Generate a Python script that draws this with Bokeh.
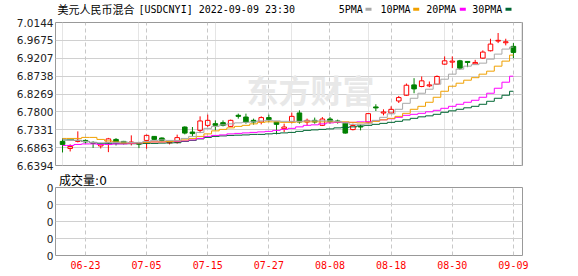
from bokeh.plotting import figure
from bokeh.layouts import column
from bokeh.models import (Range1d, FixedTicker, Grid, Label, Title,
                          ColumnDataSource, NumeralTickFormatter)
from bokeh.core.properties import value
from bokeh.embed import file_html
from bokeh.resources import INLINE

# ---------------- data ----------------
dates = ["06-20", "06-21", "06-22", "06-23", "06-24", "06-27", "06-28", "06-29", "06-30",
         "07-01", "07-04", "07-05", "07-06", "07-07", "07-08", "07-11", "07-12", "07-13",
         "07-14", "07-15", "07-18", "07-19", "07-20", "07-21", "07-22", "07-25", "07-26",
         "07-27", "07-28", "07-29", "08-01", "08-02", "08-03", "08-04", "08-05", "08-08",
         "08-09", "08-10", "08-11", "08-12", "08-15", "08-16", "08-17", "08-18", "08-19",
         "08-22", "08-23", "08-24", "08-25", "08-26", "08-29", "08-30", "08-31", "09-01",
         "09-02", "09-05", "09-06", "09-07", "09-08", "09-09"]

opens = [6.7026, 6.6841, 6.7026, 6.7052, 6.6999, 6.6907, 6.6999, 6.7078, 6.7026, 6.6983,
         6.6973, 6.7052, 6.7157, 6.7115, 6.6988, 6.6999, 6.7403, 6.7272, 6.7315, 6.7447,
         6.7491, 6.7518, 6.7420, 6.7710, 6.7665, 6.7578, 6.7534, 6.7650, 6.7534, 6.7360,
         6.7540, 6.7772, 6.7534, 6.7578, 6.7447, 6.7613, 6.7562, 6.7505, 6.7336, 6.7420,
         6.7534, 6.7930, 6.7770, 6.7770, 6.8086, 6.8236, 6.8508, 6.8466, 6.8482, 6.8526,
         6.9052, 6.9105, 6.9139, 6.9123, 6.9060, 6.9210, 6.9403, 6.9657, 6.9613, 6.9518]
highs = [6.7105, 6.6947, 6.7289, 6.7078, 6.7026, 6.6973, 6.7118, 6.7112, 6.7039, 6.7184,
         6.7013, 6.7203, 6.7165, 6.7131, 6.7039, 6.7203, 6.7420, 6.7403, 6.7683, 6.7728,
         6.7578, 6.7578, 6.7597, 6.7754, 6.7754, 6.7623, 6.7683, 6.7728, 6.7534, 6.7491,
         6.7781, 6.7841, 6.7623, 6.7650, 6.7665, 6.7665, 6.7597, 6.7534, 6.7491, 6.7473,
         6.7770, 6.7999, 6.7867, 6.7946, 6.8218, 6.8544, 6.8684, 6.8729, 6.8597, 6.8756,
         6.9255, 6.9255, 6.9165, 6.9123, 6.9165, 6.9413, 6.9718, 6.9868, 6.9718, 6.9604]
lows = [6.6736, 6.6762, 6.6999, 6.6973, 6.6855, 6.6841, 6.6744, 6.6920, 6.6947, 6.6920,
        6.6850, 6.6834, 6.7062, 6.7026, 6.6947, 6.6967, 6.7210, 6.7157, 6.7244, 6.7403,
        6.7315, 6.7420, 6.7403, 6.7623, 6.7491, 6.7465, 6.7473, 6.7534, 6.7210, 6.7272,
        6.7499, 6.7491, 6.7447, 6.7491, 6.7429, 6.7491, 6.7491, 6.7230, 6.7315, 6.7315,
        6.7491, 6.7823, 6.7710, 6.7754, 6.8033, 6.8218, 6.8289, 6.8447, 6.8447, 6.8508,
        6.9034, 6.8947, 6.8903, 6.8973, 6.9052, 6.9192, 6.9387, 6.9604, 6.9544, 6.9210]
closes = [6.6947, 6.6894, 6.7052, 6.7013, 6.6973, 6.6947, 6.7092, 6.6999, 6.6983, 6.7010,
          6.6954, 6.7184, 6.7078, 6.7052, 6.7013, 6.7125, 6.7244, 6.7230, 6.7562, 6.7578,
          6.7447, 6.7447, 6.7578, 6.7683, 6.7534, 6.7534, 6.7650, 6.7597, 6.7473, 6.7403,
          6.7683, 6.7534, 6.7578, 6.7534, 6.7613, 6.7545, 6.7534, 6.7244, 6.7441, 6.7403,
          6.7754, 6.7904, 6.7797, 6.7867, 6.8175, 6.8499, 6.8403, 6.8614, 6.8508, 6.8729,
          6.9139, 6.9131, 6.8947, 6.9097, 6.9097, 6.9368, 6.9578, 6.9676, 6.9639, 6.9360]

ma5 = [6.7078, 6.7052, 6.7052, 6.7025, 6.6999, 6.6986, 6.6999, 6.6999, 6.7012, 6.6999,
       6.6999, 6.7025, 6.7052, 6.7065, 6.7052, 6.7052, 6.7104, 6.7157, 6.7262, 6.7368,
       6.7420, 6.7460, 6.7486, 6.7512, 6.7526, 6.7539, 6.7565, 6.7578, 6.7565, 6.7552,
       6.7552, 6.7552, 6.7565, 6.7565, 6.7565, 6.7565, 6.7552, 6.7512, 6.7473, 6.7473,
       6.7486, 6.7578, 6.7657, 6.7749, 6.7868, 6.8025, 6.8157, 6.8289, 6.8394, 6.8526,
       6.8657, 6.8789, 6.8920, 6.8999, 6.9039, 6.9078, 6.9183, 6.9315, 6.9447, 6.9499]
ma10 = [6.7104, 6.7104, 6.7104, 6.7131, 6.7131, 6.7078, 6.7039, 6.7012, 6.6986, 6.6986,
        6.6986, 6.6999, 6.7012, 6.7012, 6.7025, 6.7039, 6.7065, 6.7104, 6.7157, 6.7223,
        6.7302, 6.7341, 6.7381, 6.7420, 6.7447, 6.7486, 6.7526, 6.7539, 6.7539, 6.7526,
        6.7526, 6.7539, 6.7539, 6.7539, 6.7539, 6.7539, 6.7539, 6.7539, 6.7526, 6.7512,
        6.7512, 6.7552, 6.7591, 6.7631, 6.7683, 6.7762, 6.7868, 6.7946, 6.8052, 6.8183,
        6.8341, 6.8473, 6.8552, 6.8631, 6.8697, 6.8789, 6.8868, 6.8999, 6.9131, 6.9289]
ma20 = [6.6920, 6.6920, 6.6946, 6.6960, 6.6960, 6.6946, 6.6946, 6.6960, 6.6960, 6.6973,
        6.6986, 6.6999, 6.7012, 6.7012, 6.7025, 6.7025, 6.7039, 6.7065, 6.7104, 6.7157,
        6.7183, 6.7196, 6.7223, 6.7236, 6.7249, 6.7262, 6.7275, 6.7289, 6.7315, 6.7341,
        6.7368, 6.7407, 6.7447, 6.7460, 6.7486, 6.7512, 6.7526, 6.7526, 6.7526, 6.7539,
        6.7539, 6.7565, 6.7591, 6.7618, 6.7657, 6.7710, 6.7736, 6.7762, 6.7802, 6.7841,
        6.7894, 6.7946, 6.7999, 6.8052, 6.8104, 6.8183, 6.8289, 6.8420, 6.8578, 6.8736]
ma30 = [6.7065, 6.7065, 6.7052, 6.7025, 6.6999, 6.6973, 6.6965, 6.6965, 6.6965, 6.6965,
        6.6965, 6.6973, 6.6973, 6.6981, 6.6986, 6.6991, 6.7025, 6.7052, 6.7091, 6.7131,
        6.7157, 6.7170, 6.7183, 6.7189, 6.7196, 6.7210, 6.7210, 6.7223, 6.7236, 6.7249,
        6.7262, 6.7289, 6.7315, 6.7328, 6.7341, 6.7354, 6.7381, 6.7394, 6.7407, 6.7433,
        6.7447, 6.7473, 6.7499, 6.7526, 6.7552, 6.7591, 6.7631, 6.7670, 6.7696, 6.7736,
        6.7789, 6.7828, 6.7868, 6.7907, 6.7946, 6.7999, 6.8078, 6.8157, 6.8236, 6.8341]

volumes = [0] * 60

price_ticks = [6.6394, 6.6863, 6.7331, 6.7800, 6.8269, 6.8738, 6.9207, 6.9675, 7.0144]
vol_ticks = [0, 1, 2, 3, 4]
vol_tick_labels = ["0", "0", "0", "0", "0"]
date_tick_labels = ["06-23", "07-05", "07-15", "07-27", "08-08", "08-18", "08-30", "09-09"]

ma_names = ["5PMA", "10PMA", "20PMA", "30PMA"]
ma_colors = ["#a8a8a8", "#f0a000", "#ff00ff", "#006633"]

title_cn = "美元人民币混合"
title_en = "[USDCNYI] 2022-09-09 23:30"
vol_title = "成交量:0"
watermark = "东方财富"

# ---------------- derived ----------------
idx = list(range(len(dates)))
date_ticks = [dates.index(d) for d in date_tick_labels]
RED = "#ff0000"
GREEN = "#008000"
BW = 0.6
W = 578
BL, BR = 55, 56          # left / right borders shared by all strips


def part(cond):
    sel = [i for i in idx if cond(i)]
    return dict(
        x=sel,
        top=[max(opens[i], closes[i]) for i in sel],
        bottom=[min(opens[i], closes[i]) for i in sel],
        high=[highs[i] for i in sel],
        low=[lows[i] for i in sel],
        left=[i - BW / 2 for i in sel],
        right=[i + BW / 2 for i in sel],
    )


up = ColumnDataSource(part(lambda i: closes[i] >= opens[i]))
dn = ColumnDataSource(part(lambda i: closes[i] < opens[i]))

xr = Range1d(-0.92, 60.19)

AX_FONT = "DejaVu Sans"
AX_SIZE = "10.5px"
AX_COLOR = "#222222"
MONO = "DejaVu Sans Mono"
CJK = "Noto Sans CJK SC"


def style_axis(ax, font, size, color, standoff):
    ax.axis_line_color = None
    ax.major_tick_line_color = None
    ax.minor_tick_line_color = None
    ax.major_tick_out = 0
    ax.major_tick_in = 0
    ax.minor_tick_out = 0
    ax.minor_tick_in = 0
    ax.major_label_standoff = standoff
    ax.major_label_text_font = font
    ax.major_label_text_font_size = size
    ax.major_label_text_color = color


# ---------------- header strip (title + legend), x in canvas pixels ----------------
HH = 16
h = figure(width=W, height=HH, x_range=Range1d(BL, W - BR), y_range=Range1d(HH, 0),
           output_backend="svg", toolbar_location=None, title=None,
           x_axis_location=None, y_axis_location=None,
           min_border_left=BL, min_border_right=BR,
           min_border_top=0, min_border_bottom=0)
h.outline_line_color = None
h.xgrid.visible = False
h.ygrid.visible = False
h.text(x=[57], y=[8.6], text=[title_cn], text_font=value(CJK), text_font_size="11px",
       text_color="#000000", text_baseline="middle", text_align="left")
h.text(x=[138], y=[9], text=[title_en], text_font=value(MONO), text_font_size="10px",
       text_color="#000000", text_baseline="middle", text_align="left")
leg_text_x = [338.3, 380.0, 425.7, 471.7]
leg_box_x = [365.0, 412.7, 459.3, 505.0]
h.text(x=leg_text_x, y=[9] * 4, text=ma_names, text_font=value(MONO),
       text_font_size="10px", text_color="#000000", text_baseline="middle",
       text_align="left")
h.quad(left=leg_box_x, right=[b + 6 for b in leg_box_x], top=[7.3] * 4,
       bottom=[10.3] * 4, fill_color=ma_colors, line_color=None)

# ---------------- price chart ----------------
p = figure(width=W, height=155, x_range=xr,
           y_range=Range1d(price_ticks[0], price_ticks[-1]),
           output_backend="svg", toolbar_location=None, title=None,
           x_axis_location=None,
           min_border_left=BL, min_border_right=BR,
           min_border_top=6, min_border_bottom=6)
p.outline_line_color = "#999999"
p.outline_line_width = 1
p.border_fill_color = "white"

p.yaxis.ticker = FixedTicker(ticks=price_ticks)
p.yaxis.formatter = NumeralTickFormatter(format="0.0000")
style_axis(p.yaxis[0], AX_FONT, AX_SIZE, AX_COLOR, 2)
p.ygrid.grid_line_color = "#d0d0d0"
p.ygrid.grid_line_width = 1

vg = Grid(dimension=0, ticker=FixedTicker(ticks=date_ticks),
          grid_line_color="#c8c8c8", grid_line_dash="4 3", grid_line_width=1)
p.add_layout(vg)

wm = Label(x=255, y=77, x_units="screen", y_units="screen", text=watermark,
           text_font=CJK, text_font_size="32px", text_font_style="bold",
           text_color="#e8e8e8", text_align="center", text_baseline="middle",
           level="underlay")
p.add_layout(wm)

# candles
p.segment(x0="x", x1="x", y0="high", y1="top", source=up, line_color=RED, line_width=1)
p.segment(x0="x", x1="x", y0="bottom", y1="low", source=up, line_color=RED, line_width=1)
p.quad(left="left", right="right", top="top", bottom="bottom", source=up,
       fill_alpha=0, line_color=RED, line_width=1)
p.segment(x0="x", x1="x", y0="high", y1="low", source=dn, line_color=GREEN, line_width=1)
p.quad(left="left", right="right", top="top", bottom="bottom", source=dn,
       fill_color=GREEN, line_color=GREEN, line_width=1)

# moving averages
for ser, col in zip([ma30, ma20, ma10, ma5], ma_colors[::-1]):
    p.step(x=idx, y=ser, mode="center", line_color=col, line_width=1)

# ---------------- volume chart ----------------
v = figure(width=W, height=105, x_range=xr, y_range=Range1d(vol_ticks[0], vol_ticks[-1]),
           output_backend="svg", toolbar_location=None,
           min_border_left=BL, min_border_right=BR,
           min_border_top=16, min_border_bottom=21)
v.title = Title(text=vol_title, align="left", offset=3.6, standoff=0,
                text_font="DejaVu Sans, Noto Sans CJK SC", text_font_size="12px",
                text_font_style="normal", text_color="#000000")
v.outline_line_color = "#999999"
v.outline_line_width = 1
v.border_fill_color = "white"
v.vbar(x=idx, top=volumes, width=BW, fill_color=RED, line_color=None)

v.yaxis.ticker = FixedTicker(ticks=vol_ticks)
v.yaxis.major_label_overrides = {t: s for t, s in zip(vol_ticks, vol_tick_labels)}
style_axis(v.yaxis[0], AX_FONT, AX_SIZE, AX_COLOR, 2)
v.ygrid.grid_line_color = "#d0d0d0"

v.xaxis.ticker = FixedTicker(ticks=date_ticks)
v.xaxis.major_label_overrides = {t: s for t, s in zip(date_ticks, date_tick_labels)}
style_axis(v.xaxis[0], MONO, "10px", RED, 5)
v.xgrid.grid_line_color = "#c8c8c8"
v.xgrid.grid_line_dash = "4 3"

layout = column(h, p, v, spacing=0)
open("out.html", "w").write(file_html(layout, INLINE))
